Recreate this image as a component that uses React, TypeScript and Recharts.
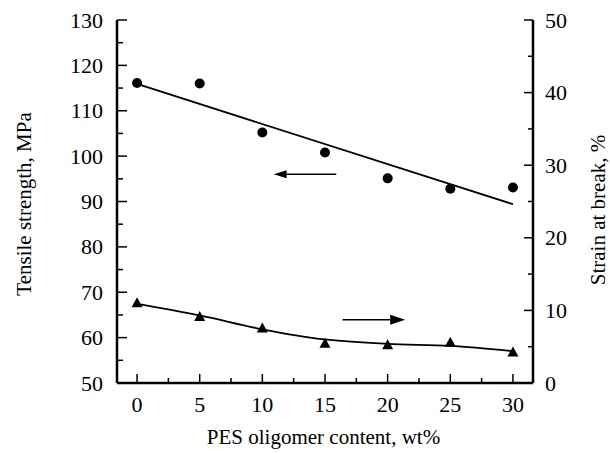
import React from 'react';
import {
  ComposedChart, XAxis, YAxis, Line, Scatter, ReferenceLine,
} from 'recharts';

const contents = [0, 5, 10, 15, 20, 25, 30];
const tensileValues = [116.1, 116.0, 105.2, 100.8, 95.1, 92.8, 93.1];
const tensileFitX = [0, 30];
const tensileFitValues = [115.9, 89.4];
const strainValues = [11.0, 9.1, 7.5, 5.4, 5.2, 5.55, 4.2];
const strainFitValues = [10.9, 9.3, 7.4, 6.0, 5.4, 5.1, 4.4];

const xTicks = [0, 2.5, 5, 7.5, 10, 12.5, 15, 17.5, 20, 22.5, 25, 27.5, 30];
const leftTicks = [50, 55, 60, 65, 70, 75, 80, 85, 90, 95, 100, 105, 110, 115, 120, 125, 130];
const rightTicks = [0, 5, 10, 15, 20, 25, 30, 35, 40, 45, 50];

const xTitle = 'PES oligomer content, wt%';
const leftTitle = 'Tensile strength, MPa';
const rightTitle = 'Strain at break, %';

// annotation arrows (data coordinates)
const leftArrow = { from: 15.9, to: 10.9, y: 96.0 };
const rightArrow = { from: 16.4, to: 21.4, y: 8.7 };

const tensilePts = contents.map((x, i) => ({ x, y: tensileValues[i] }));
const tensileFit = tensileFitX.map((x, i) => ({ x, y: tensileFitValues[i] }));
const strainPts = contents.map((x, i) => ({ x, y: strainValues[i] }));
const strainFit = contents.map((x, i) => ({ x, y: strainFitValues[i] }));

const FONT = 'Liberation Serif';
const txtStyle: React.CSSProperties = { fontFamily: FONT, fontSize: 22 };
const titleStyle: React.CSSProperties = { fontFamily: FONT, fontSize: 21 };

const isMajor = (v: number, step: number) => Math.abs(v / step - Math.round(v / step)) < 1e-6;

const BottomTick = (props: any) => {
  const { x, y, payload } = props;
  const major = isMajor(payload.value, 5);
  return (
    <g>
      <line x1={x} y1={y} x2={x} y2={y - (major ? 9 : 5)} stroke="#000" strokeWidth={1.5} />
      {major && (
        <text x={x} y={y + 29} textAnchor="middle" fill="#000" style={txtStyle}>
          {payload.value}
        </text>
      )}
    </g>
  );
};

const TopTick = (props: any) => {
  const { x, y, payload } = props;
  const major = isMajor(payload.value, 5);
  return <line x1={x} y1={y} x2={x} y2={y + (major ? 9 : 5)} stroke="#000" strokeWidth={1.5} />;
};

const LeftTick = (props: any) => {
  const { x, y, payload } = props;
  const major = isMajor(payload.value, 10);
  return (
    <g>
      <line x1={x} y1={y} x2={x + (major ? 10 : 6)} y2={y} stroke="#000" strokeWidth={1.5} />
      {major && (
        <text x={x - 14} y={y + 7.5} textAnchor="end" fill="#000" style={txtStyle}>
          {payload.value}
        </text>
      )}
    </g>
  );
};

const RightTick = (props: any) => {
  const { x, y, payload } = props;
  const major = isMajor(payload.value, 10);
  return (
    <g>
      <line x1={x} y1={y} x2={x - (major ? 9 : 5)} y2={y} stroke="#000" strokeWidth={1.5} />
      {major && (
        <text x={x + 12} y={y + 7.5} textAnchor="start" fill="#000" style={txtStyle}>
          {payload.value}
        </text>
      )}
    </g>
  );
};

const Dot = (props: any) => {
  const { cx, cy } = props;
  return <circle cx={cx} cy={cy} r={5} fill="#000" />;
};

const Tri = (props: any) => {
  const { cx, cy } = props;
  return <polygon points={`${cx - 5.5},${cy + 4} ${cx + 5.5},${cy + 4} ${cx},${cy - 6}`} fill="#000" />;
};

const arrowShape = (headLen: number, halfW: number) => (props: any) => {
  const { x1, y1, x2, y2 } = props;
  const dir = x2 > x1 ? 1 : -1;
  const bx = x2 - dir * headLen;
  return (
    <g>
      <line x1={x1} y1={y1} x2={bx} y2={y2} stroke="#000" strokeWidth={1.5} />
      <polygon points={`${x2},${y2} ${bx},${y2 - halfW} ${bx},${y2 + halfW}`} fill="#000" />
    </g>
  );
};

const BottomTitle = (props: any) => {
  const vb = props.viewBox || {};
  const cx = vb.x + vb.width / 2 - 1.5;
  const by = vb.y + vb.height - 9;
  return (
    <text x={cx} y={by} textAnchor="middle" fill="#000" style={titleStyle}>
      {xTitle}
    </text>
  );
};

const LeftTitle = (props: any) => {
  const vb = props.viewBox || {};
  const bx = vb.x + 19;
  const cy = vb.y + vb.height / 2 + 2.5;
  return (
    <text x={bx} y={cy} transform={`rotate(-90 ${bx} ${cy})`} textAnchor="middle" fill="#000" style={titleStyle}>
      {leftTitle}
    </text>
  );
};

const RightTitle = (props: any) => {
  const vb = props.viewBox || {};
  const bx = vb.x + vb.width - 5;
  const cy = vb.y + vb.height / 2 + 8.5;
  return (
    <text x={bx} y={cy} transform={`rotate(-90 ${bx} ${cy})`} textAnchor="middle" fill="#000" style={titleStyle}>
      {rightTitle}
    </text>
  );
};

export default function App() {
  return (
    <div style={{ position: 'absolute', left: 0, top: 0, width: 610, height: 453, background: '#fff' }}>
      <ComposedChart width={610} height={453} margin={{ top: 20, right: 0, bottom: 0, left: 12 }}>
        <XAxis
          xAxisId="b"
          type="number"
          dataKey="x"
          domain={[-1.6, 31.6]}
          allowDataOverflow
          ticks={xTicks}
          interval={0}
          tickSize={0}
          tickMargin={0}
          tick={<BottomTick />}
          tickLine={false}
          axisLine={{ stroke: '#000', strokeWidth: 2.5 }}
          height={70}
          label={{ content: BottomTitle }}
        />
        <XAxis
          xAxisId="t"
          orientation="top"
          type="number"
          dataKey="x"
          domain={[-1.6, 31.6]}
          allowDataOverflow
          ticks={xTicks}
          interval={0}
          tickSize={0}
          tickMargin={0}
          tick={<TopTick />}
          tickLine={false}
          axisLine={{ stroke: '#000', strokeWidth: 2.5 }}
          height={0}
        />
        <YAxis
          yAxisId="l"
          type="number"
          domain={[50, 130]}
          allowDataOverflow
          ticks={leftTicks}
          interval={0}
          tickSize={0}
          tickMargin={0}
          tick={<LeftTick />}
          tickLine={false}
          axisLine={{ stroke: '#000', strokeWidth: 2.5 }}
          width={105}
          label={{ content: LeftTitle }}
        />
        <YAxis
          yAxisId="r"
          orientation="right"
          type="number"
          domain={[0, 50]}
          allowDataOverflow
          ticks={rightTicks}
          interval={0}
          tickSize={0}
          tickMargin={0}
          tick={<RightTick />}
          tickLine={false}
          axisLine={{ stroke: '#000', strokeWidth: 2.5 }}
          width={77}
          label={{ content: RightTitle }}
        />
        <Line xAxisId="b" yAxisId="l" data={tensileFit} dataKey="y" type="linear" stroke="#000" strokeWidth={1.8} dot={false} isAnimationActive={false} />
        <Line xAxisId="b" yAxisId="r" data={strainFit} dataKey="y" type="monotone" stroke="#000" strokeWidth={1.8} dot={false} isAnimationActive={false} />
        <Scatter xAxisId="b" yAxisId="l" data={tensilePts} dataKey="y" shape={<Dot />} isAnimationActive={false} />
        <Scatter xAxisId="b" yAxisId="r" data={strainPts} dataKey="y" shape={<Tri />} isAnimationActive={false} />
        <ReferenceLine
          xAxisId="b"
          yAxisId="l"
          segment={[{ x: leftArrow.from, y: leftArrow.y }, { x: leftArrow.to, y: leftArrow.y }]}
          shape={arrowShape(13, 4)}
        />
        <ReferenceLine
          xAxisId="b"
          yAxisId="r"
          segment={[{ x: rightArrow.from, y: rightArrow.y }, { x: rightArrow.to, y: rightArrow.y }]}
          shape={arrowShape(15, 5)}
        />
      </ComposedChart>
    </div>
  );
}
